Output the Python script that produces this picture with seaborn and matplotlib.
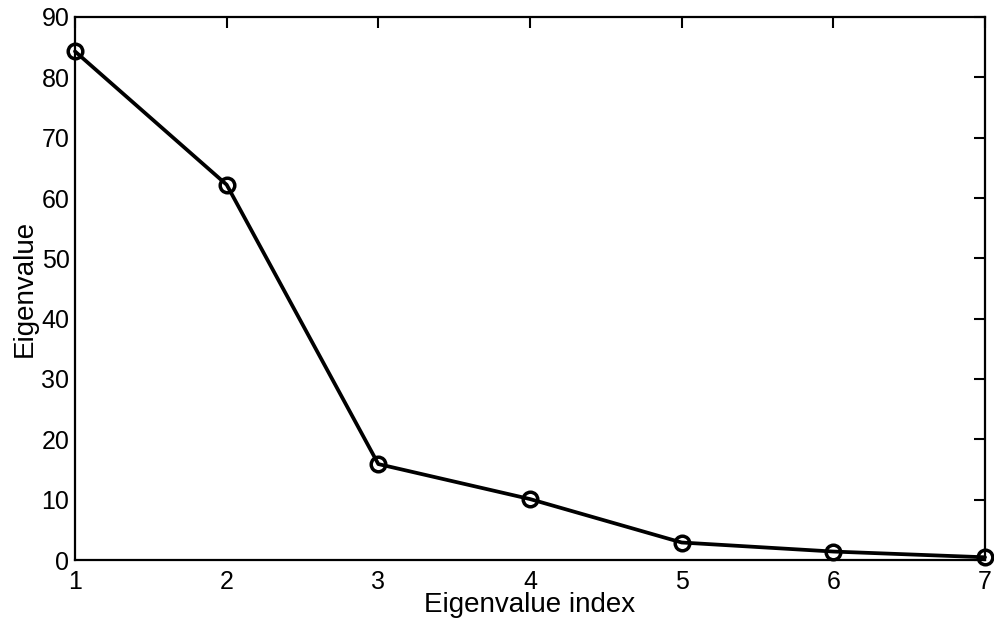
import matplotlib
matplotlib.use("Agg")
import matplotlib.pyplot as plt
import seaborn as sns
import pandas as pd

index = [1, 2, 3, 4, 5, 6, 7]
eigenvalues = [84.3, 62.2, 15.9, 10.1, 2.9, 1.4, 0.45]

sns.set_theme(style="white")
plt.rcParams['font.family'] = ['Liberation Sans', 'DejaVu Sans']
plt.rcParams['text.color'] = 'black'
plt.rcParams['axes.labelcolor'] = 'black'

df = pd.DataFrame({"idx": index, "val": eigenvalues})

fig = plt.figure(figsize=(9.94, 6.25), dpi=100)
ax = fig.add_axes([75 / 994, 1 - 560 / 625, 910 / 994, 543 / 625])
sns.lineplot(data=df, x="idx", y="val", ax=ax, color="black", linewidth=2.7,
             marker="o", markersize=10.5, markerfacecolor="none",
             markeredgecolor="black", markeredgewidth=2.5, clip_on=False)
ax.set_xlim(1, 7)
ax.set_ylim(0, 90)
ax.set_xticks(index)
ax.set_yticks(range(0, 91, 10))
ax.tick_params(axis="both", direction="in", length=8, width=1.5, labelsize=18,
               top=True, right=True, colors="black")
ax.tick_params(axis="x", pad=7)
ax.tick_params(axis="y", pad=4)
for s in ax.spines.values():
    s.set_color("black")
    s.set_linewidth(1.6)
ax.set_xlabel("Eigenvalue index", fontsize=20, labelpad=-1)
ax.set_ylabel("Eigenvalue", fontsize=20, labelpad=3)
fig.savefig("out.png", dpi=100)
